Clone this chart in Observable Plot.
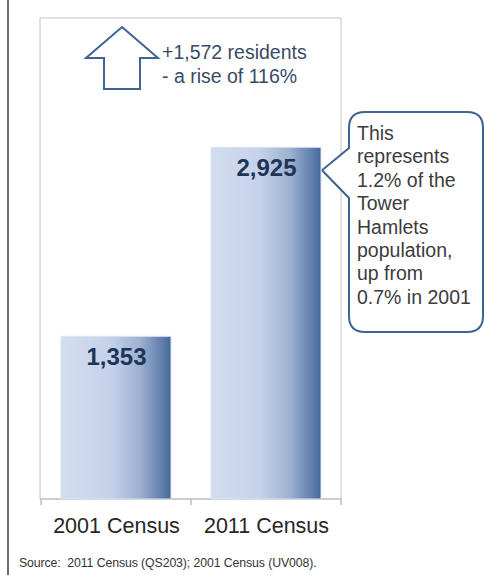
<!DOCTYPE html>
<html>
<head>
<meta charset="utf-8">
<script src="https://cdn.jsdelivr.net/npm/d3@7"></script>
<script src="https://cdn.jsdelivr.net/npm/@observablehq/plot@0.6"></script>
<style>
  html, body { margin: 0; padding: 0; background: #fff; }
  body { width: 485px; height: 575px; position: relative; overflow: hidden; font-family: "Liberation Sans", Arial, sans-serif; }
  #leftline { position: absolute; left: 7px; top: 0; width: 2px; height: 575px; background: #6b6b6b; }
  #chart { position: absolute; left: 0; top: 0; }
  #source { position: absolute; left: 19px; top: 556px; font-size: 12.3px; color: #333; letter-spacing: -0.1px; white-space: nowrap; }
</style>
</head>
<body>
<div id="leftline"></div>
<div id="chart"></div>
<div id="source">Source:&nbsp; 2011 Census (QS203); 2001 Census (UV008).</div>
<script>
const categories = ["2001 Census", "2011 Census"];
const values = [1353, 2925];
const valueLabels = ["1,353", "2,925"];
const arrowText = ["+1,572 residents", "- a rise of 116%"];
const calloutText = ["This", "represents", "1.2% of the", "Tower", "Hamlets", "population,", "up from", "0.7% in 2001"];

const data = categories.map((c, i) => ({category: c, value: values[i], label: valueLabels[i]}));

const W = 485, H = 575;
const mL = 40, mR = 144, mT = 18, mB = 76;

function annotations(index, scales, vals, dims) {
  const ns = "http://www.w3.org/2000/svg";
  const g = document.createElementNS(ns, "g");
  g.setAttribute("text-anchor", "start");
  const x = scales.x, y = scales.y;
  const step = x.step ? x.step() : (x.bandwidth() / (1 - 0.27));
  const bw = x.bandwidth();
  const defs = document.createElementNS(ns, "defs");
  defs.innerHTML = `<linearGradient id="barGrad" x1="0" y1="0" x2="1" y2="0">
      <stop offset="0" stop-color="#d3ddf1"/>
      <stop offset="0.45" stop-color="#c5d2ea"/>
      <stop offset="0.72" stop-color="#9db1d1"/>
      <stop offset="1" stop-color="#45699b"/>
    </linearGradient>`;
  g.appendChild(defs);
  const x0 = dims.marginLeft, x1 = dims.width - dims.marginRight;
  const y0 = dims.marginTop, y1 = dims.height - dims.marginBottom;
  const frame = document.createElementNS(ns, "path");
  frame.setAttribute("d", `M${x0},${y1}V${y0}H${x1}V${y1}`);
  frame.setAttribute("fill", "none");
  frame.setAttribute("stroke", "#c4c4c4");
  frame.setAttribute("stroke-width", "1");
  g.appendChild(frame);
  let d = `M${x0},${y1}H${x1}`;
  const bounds = [x(categories[0]) - (step - bw) / 2];
  categories.forEach(c => bounds.push(x(c) + bw + (step - bw) / 2));
  bounds.forEach(b => { d += `M${b},${y1}V${y1 + 6}`; });
  const axis = document.createElementNS(ns, "path");
  axis.setAttribute("d", d);
  axis.setAttribute("fill", "none");
  axis.setAttribute("stroke", "#bdbdbd");
  axis.setAttribute("stroke-width", "1.5");
  g.appendChild(axis);

  const ax = 122, aTop = 27;
  const arrow = document.createElementNS(ns, "path");
  arrow.setAttribute("d", `M${ax},${aTop}L${ax + 36},58H${ax + 18}V89H${ax - 18}V58H${ax - 36}Z`);
  arrow.setAttribute("fill", "#fff");
  arrow.setAttribute("stroke", "#3f6392");
  arrow.setAttribute("stroke-width", "2");
  g.appendChild(arrow);
  arrowText.forEach((t, i) => {
    const tx = document.createElementNS(ns, "text");
    tx.setAttribute("x", 162);
    tx.setAttribute("y", 59 + i * 24);
    tx.setAttribute("font-size", "19.5");
    tx.setAttribute("fill", "#3a4a64");
    tx.textContent = t;
    g.appendChild(tx);
  });

  const tipX = x(categories[1]) + bw + 1, tipY = y(values[1]) + 23;
  const bx0 = 349, bx1 = 483, by0 = 112, by1 = 332, r = 16;
  const callout = document.createElementNS(ns, "path");
  callout.setAttribute("d",
    `M${bx0 + r},${by0}H${bx1 - r}Q${bx1},${by0} ${bx1},${by0 + r}V${by1 - r}Q${bx1},${by1} ${bx1 - r},${by1}` +
    `H${bx0 + r}Q${bx0},${by1} ${bx0},${by1 - r}V198L${tipX},${tipY}L${bx0},148V${by0 + r}Q${bx0},${by0} ${bx0 + r},${by0}Z`);
  callout.setAttribute("fill", "#fff");
  callout.setAttribute("stroke", "#3f6392");
  callout.setAttribute("stroke-width", "2");
  g.appendChild(callout);
  calloutText.forEach((t, i) => {
    const tx = document.createElementNS(ns, "text");
    tx.setAttribute("x", 357);
    tx.setAttribute("y", 140 + i * 23.4);
    tx.setAttribute("font-size", "19.5");
    tx.setAttribute("fill", "#3c3c3c");
    tx.textContent = t;
    g.appendChild(tx);
  });
  return g;
}

const chart = Plot.plot({
  width: W,
  height: H,
  marginLeft: mL,
  marginRight: mR,
  marginTop: mT,
  marginBottom: mB,
  style: {fontFamily: "'Liberation Sans', Arial, sans-serif", background: "transparent"},
  x: {domain: categories, paddingInner: 0.27, paddingOuter: 0.135, label: null},
  y: {domain: [0, 4000], axis: null},
  marks: [
    annotations,
    Plot.barY(data, {x: "category", y: "value", fill: "url(#barGrad)", stroke: "#dbe3f2", strokeWidth: 1}),
    Plot.text(data, {x: "category", y: "value", text: "label", dy: 21, fontSize: 24, fontWeight: "bold", fill: "#1f3557"}),
    Plot.axisX({tickSize: 0, tickPadding: 18, fontSize: 21.5, fill: "#262626", label: null})
  ]
});
document.getElementById("chart").appendChild(chart);
</script>
</body>
</html>
